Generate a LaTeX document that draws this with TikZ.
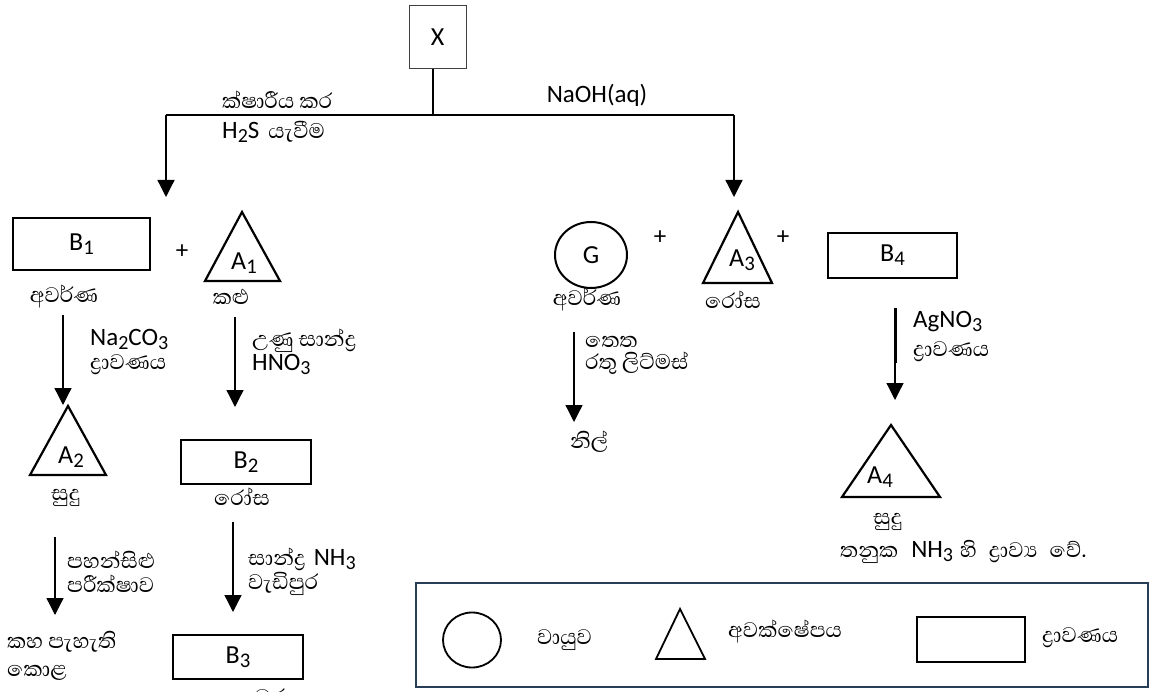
\documentclass[tikz,border=0pt]{standalone}
\usepackage{fontspec}
\setmainfont{Carlito}
\newfontfamily\lat{Carlito}
\newfontfamily\sinfont[Script=Sinhala]{Abhaya Libre}
\usetikzlibrary{arrows.meta,shapes.geometric}
\newcommand\lw[1]{\raisebox{-0.32ex}{\scalebox{0.8}{#1}}}
\newcommand\sinsz{\sinfont\fontsize{27}{24}\selectfont}
\newcommand\latsz{\lat\fontsize{25}{24}\selectfont}
\definecolor{legframe}{RGB}{40,62,88}
\tikzset{
  latxt/.style={inner sep=0pt, font=\latsz},
  sintxt/.style={inner sep=0pt, font=\sinsz},
  twoline/.style={inner sep=0pt, font=\sinsz, align=left, anchor=west},
  boxlbl/.style={inner sep=0pt, font=\lat\fontsize{26}{30}\selectfont},
  solbox/.style={draw, line width=2.2pt, inner sep=0pt, font=\lat\fontsize{26}{30}\selectfont},
  shp/.style={line width=2.2pt, line join=miter},
  conn/.style={line width=2pt},
  arr/.style={line width=1.3pt, -{Triangle[width=17pt,length=17pt]}},
}
\begin{document}
\begin{tikzpicture}[x=1pt,y=-1pt]
\useasboundingbox (0,0) rectangle (1150,692);

% top
\node[draw=black!75, line width=1pt, minimum width=57pt, minimum height=63pt, inner sep=0pt, font=\lat\fontsize{26}{30}\selectfont] (X) at (437.5,37.5) {X};
\coordinate (j) at (433,115);
\coordinate (hl) at (166,115);
\coordinate (hr) at (734,115);
\coordinate (tl) at (166,197);
\coordinate (tr) at (734,197);
\draw[conn] (X.south -| j) -- (j);
\draw[conn] (hl) -- (hr);
\draw[arr] (hl) -- (tl);
\draw[arr] (hr) -- (tr);
\node[sintxt, anchor=west] (t1) at (222,100) {ක්ෂාරීය කර};
\node[anchor=west, inner sep=0pt] (t2) at (222,132) {{\latsz H\lw{2}S}\hspace{9pt}{\sinsz යැවීම}};
\node[latxt] (t3) at (597,95) {NaOH(aq)};

% left branch
\node[solbox, minimum width=137pt, minimum height=52pt] (B1) at (81.5,244) {B\lw{1}};
\node[latxt] (p1) at (182,252) {+};
\draw[shp] (242,212) -- (205,281) -- (280,281) -- cycle;
\node[boxlbl] (A1) at (244,263) {A\lw{1}};
\node[sintxt] (c1) at (64,297) {අවර්ණ};
\node[sintxt] (c2) at (231,297) {කළු};

\coordinate (a1s) at (63,315); \coordinate (a1e) at (63,405);
\draw[arr] (a1s) -- (a1e);
\node[twoline] (r1) at (90,352) {{\latsz Na\lw{2}CO\lw{3}}\\ද්‍රාවණය};

\coordinate (a2s) at (235,317); \coordinate (a2e) at (235,407);
\draw[arr] (a2s) -- (a2e);
\node[twoline] (r3) at (252,352) {උණු සාන්ද්‍ර\\{\latsz HNO\lw{3}}};

\draw[shp] (68,406) -- (30,475) -- (106,475) -- cycle;
\node[boxlbl] (A2) at (71,457) {A\lw{2}};
\node[sintxt] (c3) at (66,498) {සුදු};

\node[solbox, minimum width=130pt, minimum height=44pt] (B2) at (246,462) {B\lw{2}};
\node[sintxt] (c4) at (242,497) {රෝස};

\coordinate (a3s) at (55,537); \coordinate (a3e) at (55,615);
\draw[arr] (a3s) -- (a3e);
\node[twoline] (r5) at (67,572) {පහන්සිළු\\පරීක්ෂාව};

\coordinate (a4s) at (233,522); \coordinate (a4e) at (233,612);
\draw[arr] (a4s) -- (a4e);
\node[twoline] (r7) at (248,572) {සාන්ද්‍ර\hspace{8pt}{\latsz NH\lw{3}}\\වැඩිපුර};

\node[twoline, font=\sinfont\fontsize{27}{28}\selectfont] (c5) at (7,656) {කහ පැහැති\\කොළ};

\node[solbox, minimum width=130pt, minimum height=44pt] (B3) at (238,657) {B\lw{3}};
\node[sintxt] (c7) at (247,700) {කහ දුඹුරු};

% right branch
\node[draw, ellipse, line width=2pt, minimum width=72pt, minimum height=66pt, inner sep=0pt, font=\lat\fontsize{26}{30}\selectfont] (G) at (591,255) {G};
\node[latxt] (p2) at (660,238) {+};
\node[latxt] (p3) at (783,238) {+};
\draw[shp] (738,212) -- (703,283) -- (772,283) -- cycle;
\node[boxlbl] (A3) at (742,260) {A\lw{3}};
\node[sintxt] (c8) at (587,300) {අවර්ණ};
\node[sintxt] (c9) at (733,300) {රෝස};

\coordinate (a5s) at (574,332); \coordinate (a5e) at (574,422);
\draw[arr] (a5s) -- (a5e);
\node[twoline, font=\sinfont\fontsize{27}{22}\selectfont] (r9) at (585,355) {තෙත\\රතු ලිට්මස්};
\node[sintxt, anchor=west] (c10) at (570,442) {නිල්};

\node[solbox, minimum width=129pt, minimum height=45pt] (B4) at (892.5,255.5) {B\lw{4}};
\coordinate (a6s) at (895,308); \coordinate (a6m) at (895,363); \coordinate (a6e) at (895,400);
\draw[line width=3pt] (a6s) -- (a6m);
\draw[arr] (a6m) -- (a6e);
\node[twoline, font=\sinfont\fontsize{27}{29}\selectfont] (r11) at (913,337) {{\lat\fontsize{25}{29}\selectfont AgNO\lw{3}}\\ද්‍රාවණය};

\draw[shp] (891,425) -- (842,497) -- (940,497) -- cycle;
\node[boxlbl] (A4) at (880,477) {A\lw{4}};
\node[sintxt] (c11) at (888,522) {සුදු};
\node[anchor=west, inner sep=0pt] (c12) at (840,552) {{\sinsz තනුක}\hspace{13pt}{\latsz NH\lw{3}}\hspace{7pt}{\sinsz හි}\hspace{12pt}{\sinsz ද්‍රාව්‍ය}\hspace{12pt}{\sinsz වේ.}};

% legend
\node[draw=legframe, line width=2.2pt, minimum width=732pt, minimum height=104pt, inner sep=0pt] (leg) at (782,635) {};
\node[draw, ellipse, line width=1.8pt, minimum width=58pt, minimum height=55pt, inner sep=0pt] (lc) at (472,640) {};
\node[sintxt, anchor=west] (l1) at (537,640) {වායුව};
\draw[line width=1.8pt] (680,609) -- (656,659) -- (705,659) -- cycle;
\node[sintxt, anchor=west] (l2) at (728,632) {අවක්ෂේපය};
\node[draw, line width=1.8pt, minimum width=108pt, minimum height=45pt, inner sep=0pt] (lr) at (971,639.5) {};
\node[sintxt, anchor=west] (l3) at (1042,638) {ද්‍රාවණය};
\end{tikzpicture}
\end{document}
